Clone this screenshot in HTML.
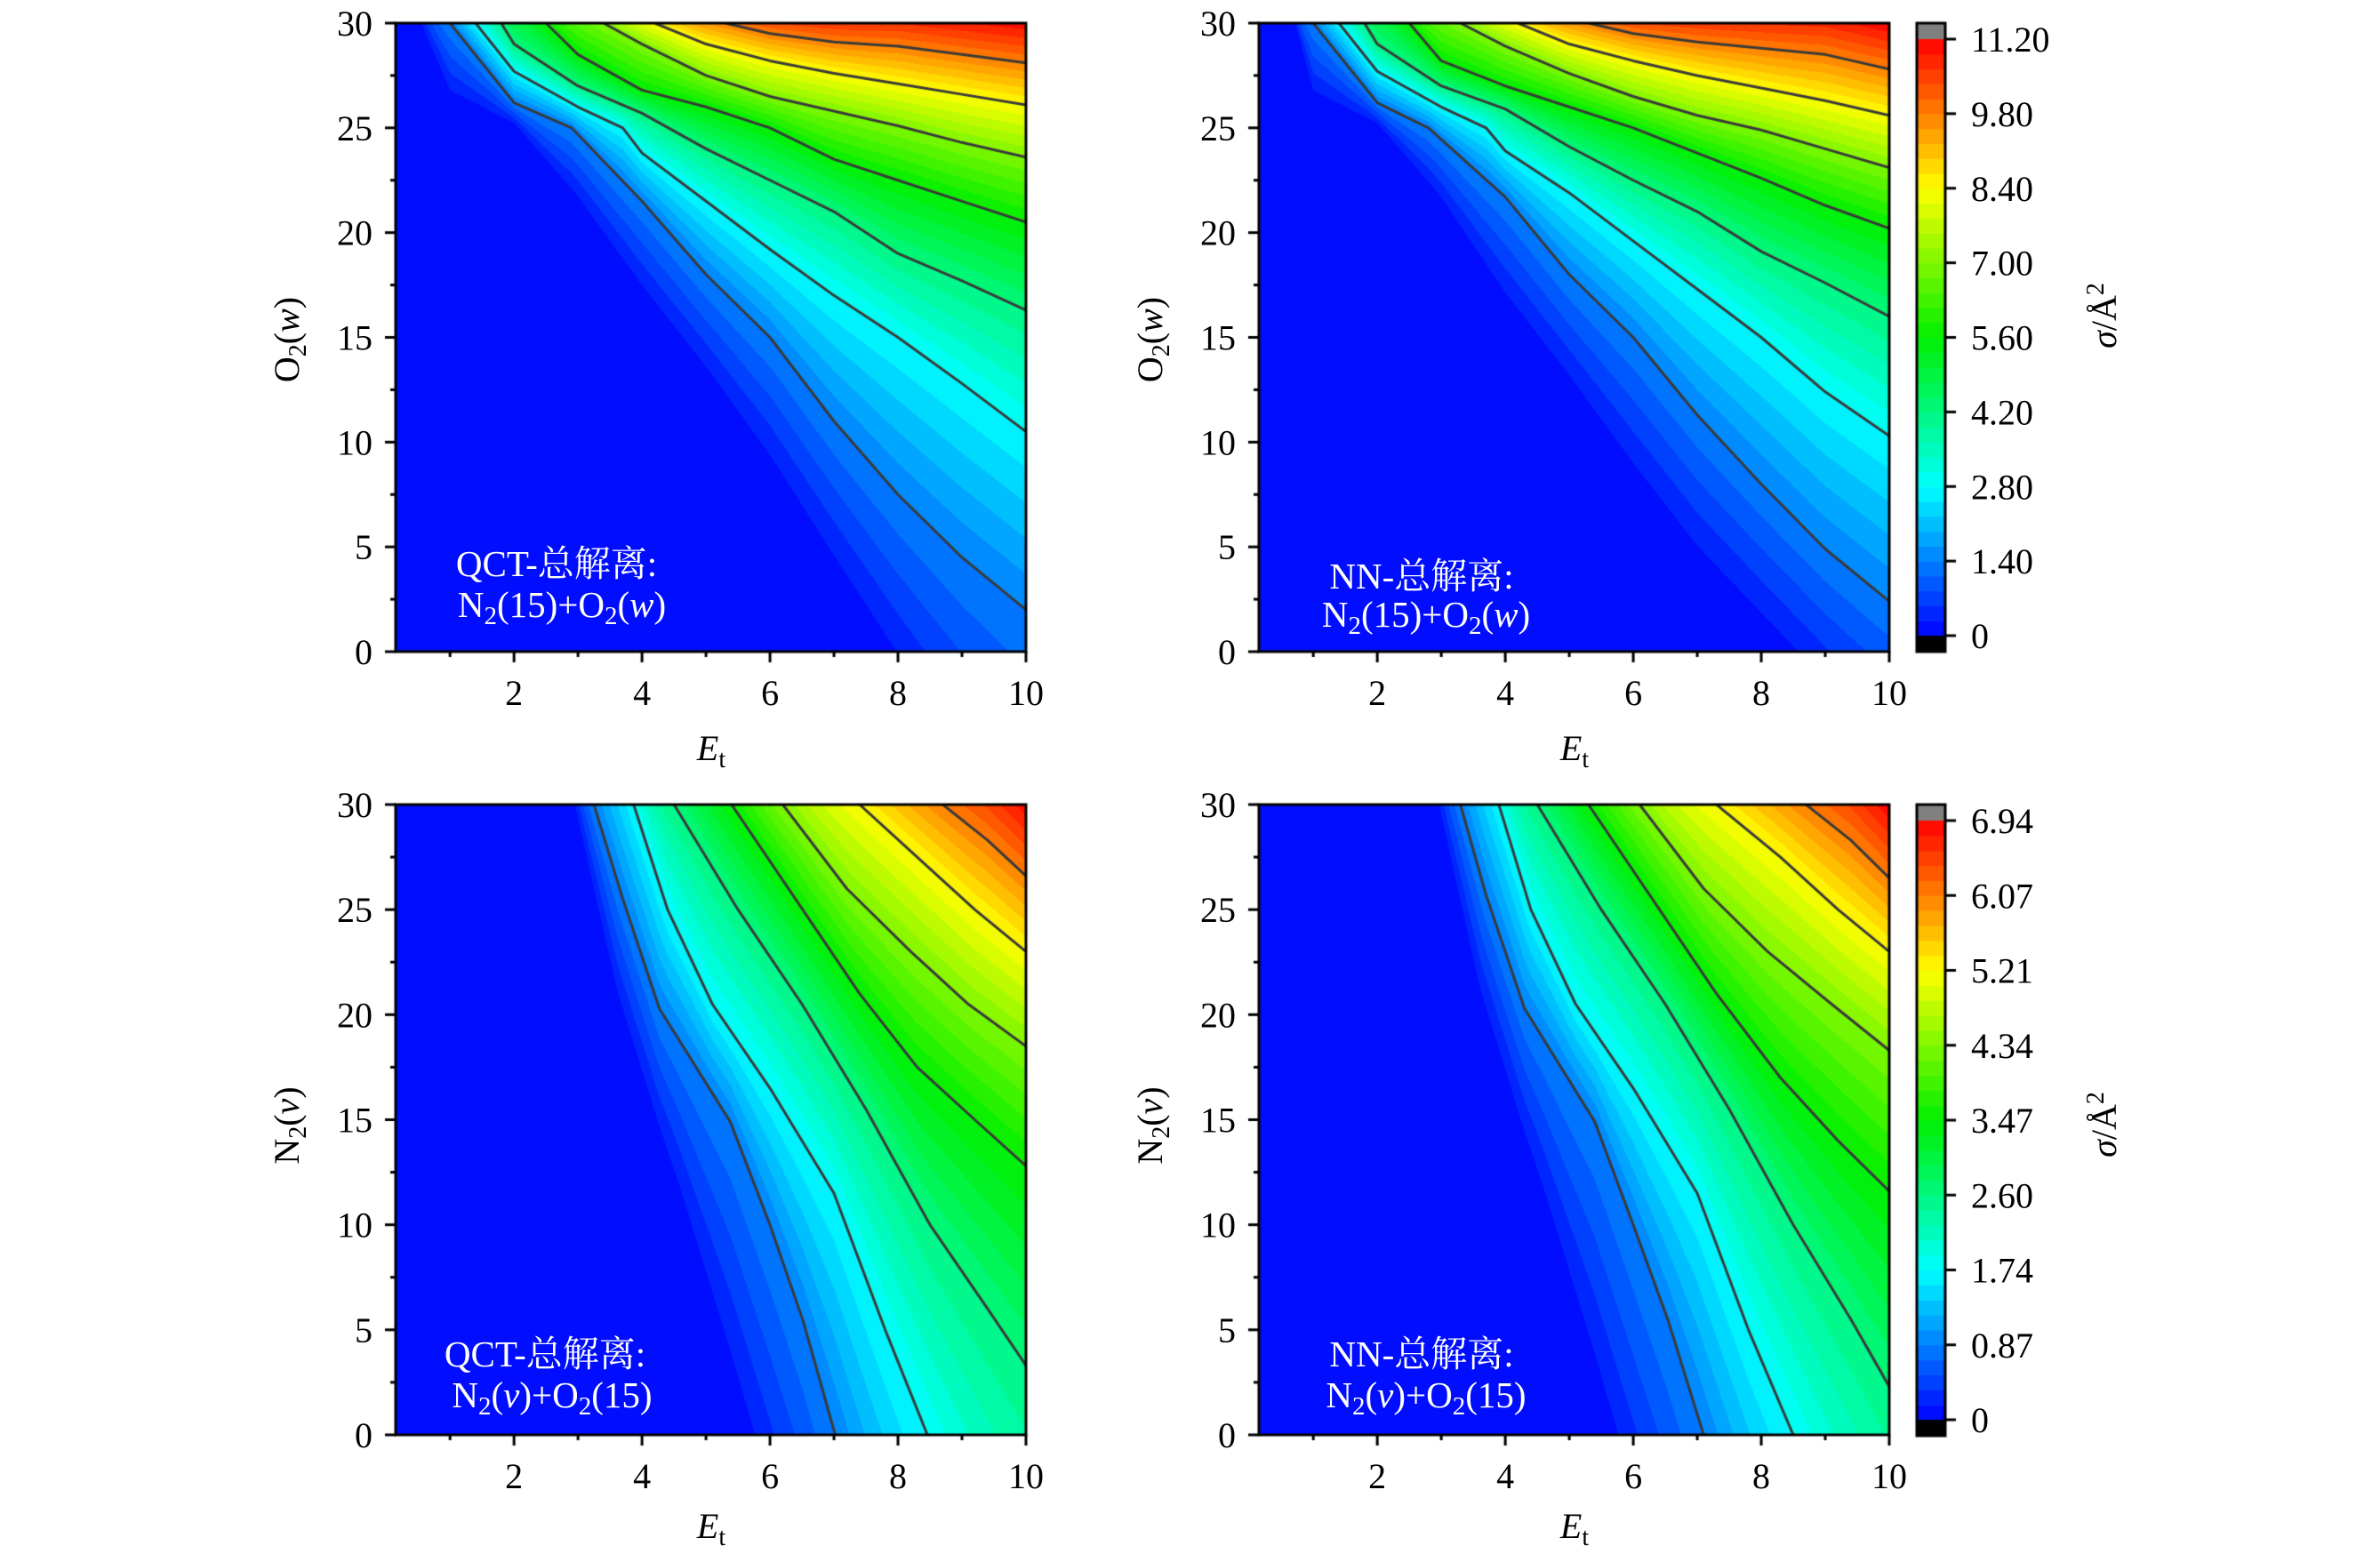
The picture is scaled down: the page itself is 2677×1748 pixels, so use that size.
<!DOCTYPE html>
<html><head><meta charset="utf-8">
<style>
html,body{margin:0;padding:0;background:#fff;}
#wrap{position:relative;width:2677px;height:1748px;overflow:hidden;background:#fff;}
canvas{position:absolute;left:0;top:0;}
svg{position:absolute;left:0;top:0;}
text{font-family:"Liberation Serif","Noto Serif CJK SC",serif;}
</style></head>
<body><div id="wrap">
<canvas id="cv" width="2677" height="1748"></canvas>
<svg id="sv" width="2677" height="1748" xmlns="http://www.w3.org/2000/svg">
<g font-size="40" fill="#000">
<text x="800" y="855" text-anchor="middle" font-style="italic">E<tspan font-style="normal" font-size="28" dy="8">t</tspan></text>
<text x="1771" y="855" text-anchor="middle" font-style="italic">E<tspan font-style="normal" font-size="28" dy="8">t</tspan></text>
<text x="800" y="1730" text-anchor="middle" font-style="italic">E<tspan font-style="normal" font-size="28" dy="8">t</tspan></text>
<text x="1771" y="1730" text-anchor="middle" font-style="italic">E<tspan font-style="normal" font-size="28" dy="8">t</tspan></text>
<text transform="translate(336,382) rotate(-90)" text-anchor="middle">O<tspan font-size="28" dy="8">2</tspan><tspan dy="-8">(</tspan><tspan font-style="italic">w</tspan>)</text>
<text transform="translate(1307,382) rotate(-90)" text-anchor="middle">O<tspan font-size="28" dy="8">2</tspan><tspan dy="-8">(</tspan><tspan font-style="italic">w</tspan>)</text>
<text transform="translate(336,1266) rotate(-90)" text-anchor="middle">N<tspan font-size="28" dy="8">2</tspan><tspan dy="-8">(</tspan><tspan font-style="italic">v</tspan>)</text>
<text transform="translate(1307,1266) rotate(-90)" text-anchor="middle">N<tspan font-size="28" dy="8">2</tspan><tspan dy="-8">(</tspan><tspan font-style="italic">v</tspan>)</text>
<text transform="translate(2380,355) rotate(-90)" text-anchor="middle"><tspan font-style="italic">σ</tspan>/Å<tspan font-size="28" dy="-14">2</tspan></text>
<text transform="translate(2380,1265) rotate(-90)" text-anchor="middle"><tspan font-style="italic">σ</tspan>/Å<tspan font-size="28" dy="-14">2</tspan></text>
</g>
<g font-size="41" fill="#fff" text-anchor="middle">
<text x="626" y="648">QCT-总解离:</text>
<text x="632" y="694">N<tspan font-size="29" dy="8">2</tspan><tspan dy="-8">(15)+O</tspan><tspan font-size="29" dy="8">2</tspan><tspan dy="-8">(</tspan><tspan font-style="italic">w</tspan>)</text>
<text x="1599" y="662">NN-总解离:</text>
<text x="1604" y="705">N<tspan font-size="29" dy="8">2</tspan><tspan dy="-8">(15)+O</tspan><tspan font-size="29" dy="8">2</tspan><tspan dy="-8">(</tspan><tspan font-style="italic">w</tspan>)</text>
<text x="613" y="1537">QCT-总解离:</text>
<text x="621" y="1583">N<tspan font-size="29" dy="8">2</tspan><tspan dy="-8">(</tspan><tspan font-style="italic">v</tspan>)+O<tspan font-size="29" dy="8">2</tspan><tspan dy="-8">(15)</tspan></text>
<text x="1599" y="1537">NN-总解离:</text>
<text x="1604" y="1583">N<tspan font-size="29" dy="8">2</tspan><tspan dy="-8">(</tspan><tspan font-style="italic">v</tspan>)+O<tspan font-size="29" dy="8">2</tspan><tspan dy="-8">(15)</tspan></text>
</g>
<g id="axes"></g>
</svg>
</div>
<script>
var cv=document.getElementById('cv'),ctx=cv.getContext('2d');
function jet(t){
 var st=[[0,0,0,255],[0.25,0,255,255],[0.5,0,240,0],[0.75,255,255,0],[1,255,0,0]];
 if(t<=0)return[0,0,255];if(t>=1)return[255,0,0];
 for(var i=0;i<4;i++){if(t<=st[i+1][0]){var a=st[i],b=st[i+1],f=(t-a[0])/(b[0]-a[0]);
 return[a[1]+(b[1]-a[1])*f,a[2]+(b[2]-a[2])*f,a[3]+(b[3]-a[3])*f];}}
}
function ev(c,x){var n=c.length;
 if(x<=c[0][0]){var a=c[0],b=c[1];return a[1]+(b[1]-a[1])*(x-a[0])/(b[0]-a[0]);}
 if(x>=c[n-1][0]){var a=c[n-2],b=c[n-1];return b[1]+(b[1]-a[1])*(x-b[0])/(b[0]-a[0]);}
 for(var i=0;i<n-1;i++){if(x<=c[i+1][0]){var a=c[i],b=c[i+1];return a[1]+(b[1]-a[1])*(x-a[0])/(b[0]-a[0]);}}
}
var TL=[
[[0.5,30],[1,26],[2,25],[3,21],[4,16.5],[5,12.5],[6,8],[7,3],[7.6,0]],
[[1,30],[2,26.2],[2.9,25],[4,21.5],[5,18],[6,15],[7,11],[8,7.5],[9,4.5],[10,2]],
[[1.4,30],[2,27.7],[3,26],[3.7,25],[4,23.8],[5,21.5],[6,19.2],[7,17],[8,15],[9,12.8],[10,10.5]],
[[1.8,30],[2,29],[3,27],[4,25.7],[5,24],[6,22.5],[7,21],[8,19],[9,17.7],[10,16.3]],
[[2.5,30],[3,28.5],[4,26.8],[5,26],[6,25],[7,23.5],[8,22.5],[9,21.5],[10,20.5]],
[[3.4,30],[4,29],[5,27.5],[6,26.5],[7,25.8],[8,25.1],[9,24.3],[10,23.6]],
[[4.2,30],[5,29],[6,28.2],[7,27.6],[8,27.1],[9,26.6],[10,26.1]],
[[5.3,30],[6,29.5],[7,29.1],[8,28.9],[9,28.5],[10,28.1]]];
var TR=[
[[0.7,30],[1,26],[2,25],[3,21],[4,16],[5,12],[6,7.5],[7,3.5],[8.1,0]],
[[1,30],[2,26.2],[2.8,25],[4,21.7],[5,18],[6,15],[7,11.3],[8,8],[9,4.9],[10,2.4]],
[[1.4,30],[2,27.7],[3,26],[3.7,25],[4,23.9],[5,21.9],[6,19.6],[7,17.3],[8,15],[9,12.4],[10,10.3]],
[[1.8,30],[2,29],[3,27],[4,25.9],[5,24.1],[6,22.5],[7,21],[8,19.1],[9,17.6],[10,16]],
[[2.5,30],[3,28.2],[4,27],[5,26],[6,25],[7,23.8],[8,22.6],[9,21.3],[10,20.2]],
[[3.3,30],[4,28.9],[5,27.6],[6,26.5],[7,25.6],[8,24.9],[9,24],[10,23.1]],
[[4.2,30],[5,29],[6,28.2],[7,27.5],[8,26.9],[9,26.3],[10,25.6]],
[[5.3,30],[6,29.5],[7,29.1],[8,28.8],[9,28.5],[10,27.8]]];
var BL=[
[[2.9,30],[3.6,20],[4.6,10],[5.5,0]],
[[3.25,30],[3.68,25.7],[4.27,20.3],[5.38,14.9],[6.0,10],[6.52,5.4],[7.02,0]],
[[3.87,30],[4.4,25],[5.1,20.5],[6.0,16.5],[7.0,11.5],[7.8,5],[8.46,0]],
[[4.5,30],[5.5,25],[6.5,20.5],[7.5,15.5],[8.5,10],[9.4,6],[10,3.3]],
[[5.4,30],[6.4,25.5],[7.4,21],[8.3,17.5],[9.2,15],[10,12.8]],
[[6.2,30],[7.2,26],[8.2,23],[9.1,20.5],[10,18.5]],
[[7.4,30],[8.3,27.5],[9.2,25],[10,23]],
[[8.7,30],[9.4,28.3],[10,26.6]]];
var BR=[
[[2.9,30],[3.6,20],[4.6,10],[5.5,0]],
[[3.3,30],[3.7,25.7],[4.3,20.3],[5.4,14.9],[6.0,10],[6.55,5.4],[7.1,0]],
[[3.9,30],[4.4,25],[5.1,20.5],[6.0,16.5],[7.0,11.5],[7.8,5],[8.5,0]],
[[4.5,30],[5.5,25],[6.5,20.5],[7.5,15.5],[8.5,10],[9.4,5.5],[10,2.3]],
[[5.3,30],[6.3,25.5],[7.3,21],[8.3,17],[9.2,14],[10,11.6]],
[[6.1,30],[7.1,26],[8.1,23],[9.1,20.5],[10,18.3]],
[[7.3,30],[8.3,27.5],[9.2,25],[10,23]],
[[8.7,30],[9.4,28.3],[10,26.5]]];
function plot(L,T,W,H,curves,step,vmax){
 var n=curves.length,lv=[0];for(var k=1;k<n;k++)lv.push(k*step);
 var img=ctx.createImageData(W,H),d=img.data,nb=40,db=vmax/nb;
 for(var i=0;i<W;i++){
  var x=0.15+(i+0.5)/W*9.85,Y=[];
  for(var k=0;k<n;k++){var y=ev(curves[k],x);if(k>0&&y<Y[k-1]+0.01)y=Y[k-1]+0.01;Y.push(y);}
  for(var j=0;j<H;j++){
   var y=30-(j+0.5)/H*30,v;
   if(y<Y[0])v=0.0;
   else if(y>=Y[n-1]){var dd=Y[n-1]-Y[n-2];v=lv[n-1]+(y-Y[n-1])/dd*step;}
   else{for(var k=0;k<n-1;k++){if(y<Y[k+1]){v=lv[k]+(y-Y[k])/(Y[k+1]-Y[k])*(lv[k+1]-lv[k]);break;}}}
   if(v>vmax-0.001)v=vmax-0.001;
   var b=Math.floor(v/db),c=jet((b+0.5)/nb),p=(j*W+i)*4;
   d[p]=c[0];d[p+1]=c[1];d[p+2]=c[2];d[p+3]=255;
  }
 }
 ctx.putImageData(img,L,T);
 ctx.save();ctx.beginPath();ctx.rect(L,T,W,H);ctx.clip();
 ctx.strokeStyle='#3a3a3a';ctx.lineWidth=3;ctx.lineJoin='round';
 for(var k=1;k<n;k++){var c=curves[k];ctx.beginPath();
  for(var m=0;m<c.length;m++){var px=L+(c[m][0]-0.15)/9.85*W,py=T+(30-c[m][1])/30*H;if(m==0)ctx.moveTo(px,py);else ctx.lineTo(px,py);}
  ctx.stroke();}
 ctx.restore();
}
plot(445,26,709,707,TL,1.4,11.2);
plot(1416,26,709,707,TR,1.4,11.2);
plot(445,905,709,709,BL,0.8675,6.94);
plot(1416,905,709,709,BR,0.8675,6.94);
function cbar(T,Bt,labels){
 var x=2156,w=32,top=T+18,bot=Bt-18,nb=40,h=(bot-top)/nb;
 ctx.fillStyle='#808080';ctx.fillRect(x,T,w,18);
 for(var b=0;b<nb;b++){var c=jet((b+0.5)/nb);ctx.fillStyle='rgb('+Math.round(c[0])+','+Math.round(c[1])+','+Math.round(c[2])+')';ctx.fillRect(x,bot-(b+1)*h,w,h+0.6);}
 ctx.fillStyle='#000';ctx.fillRect(x,bot,w,18);
 ctx.strokeStyle='#000';ctx.lineWidth=3;ctx.strokeRect(x,T,w,Bt-T);
 var s='';
 for(var i=0;i<labels.length;i++){var y=bot-(bot-top)*i/(labels.length-1);
  ctx.fillRect(x+w,y-1.5,12,3);
  s+='<text x="2217" y="'+(y+14)+'" font-size="40">'+labels[i]+'</text>';}
 return s;
}
var S='';
S+=cbar(26,733,['0','1.40','2.80','4.20','5.60','7.00','8.40','9.80','11.20']);
S+=cbar(905,1615,['0','0.87','1.74','2.60','3.47','4.34','5.21','6.07','6.94']);
function axes(L,T,W,H){
 ctx.strokeStyle='#000';ctx.lineWidth=3;ctx.strokeRect(L,T,W,H);ctx.fillStyle='#000';
 for(var v=0;v<=30;v+=2.5){var y=T+(30-v)/30*H;var maj=(v%5==0);
  ctx.fillRect(L-(maj?12:6),y-1.5,maj?12:6,3);
  if(maj)S+='<text x="'+(L-26)+'" y="'+(y+14)+'" font-size="40" text-anchor="end">'+v+'</text>';}
 for(var v=1;v<=10;v++){var x=L+(v-0.15)/9.85*W;var maj=(v%2==0);
  ctx.fillRect(x-1.5,T+H,3,maj?12:6);
  if(maj)S+='<text x="'+x+'" y="'+(T+H+60)+'" font-size="40" text-anchor="middle">'+v+'</text>';}
}
axes(445,26,709,707);axes(1416,26,709,707);axes(445,905,709,709);axes(1416,905,709,709);
document.getElementById('axes').innerHTML=S;
</script>
</body></html>
